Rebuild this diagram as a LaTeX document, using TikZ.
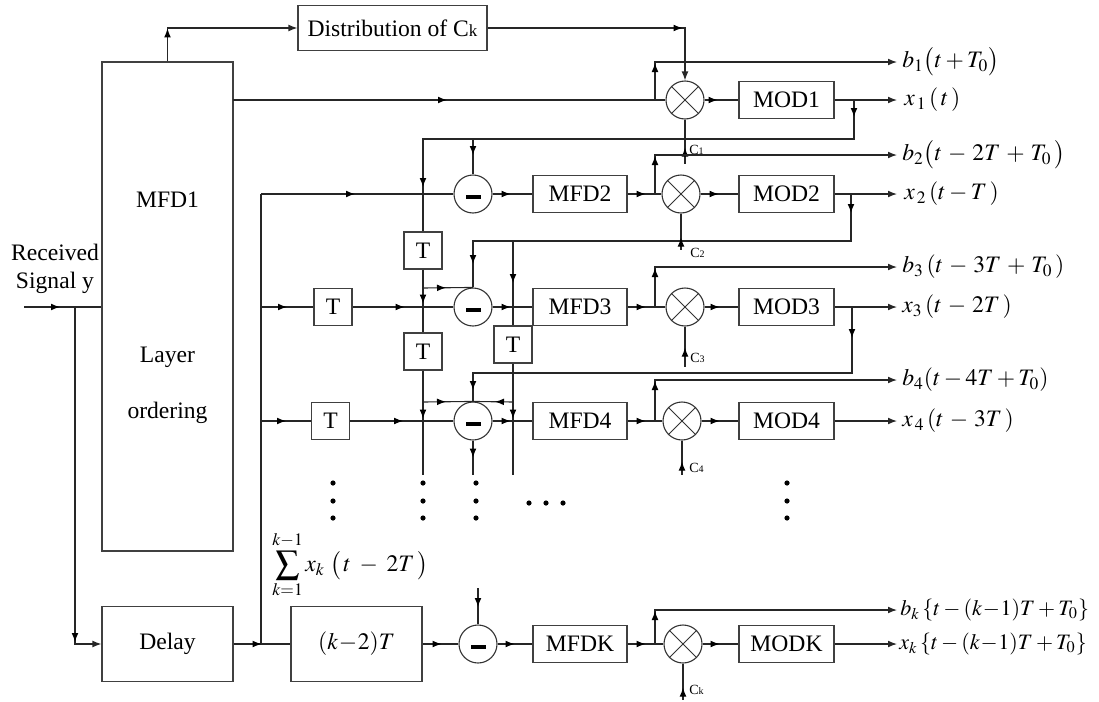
\documentclass[tikz,border=0pt]{standalone}
\usepackage{mathptmx}
\usepackage[no-math]{fontspec}
\setmainfont{Liberation Serif}
\usetikzlibrary{arrows.meta,decorations.markings}
\begin{document}
\begin{tikzpicture}[x=0.5pt,y=-0.5pt,
  >={Latex[length=4.5pt,width=3.4pt]},
  every node/.style={font=\fontsize{11.8}{14}\selectfont},
  wire/.style={draw=black!85, line width=0.55pt},
  blk/.style={draw=black!75, line width=0.55pt, rectangle, inner sep=0pt, fill=white},
  mfdbox/.style={blk, minimum width=47pt, minimum height=18.5pt},
  tbox/.style={blk, minimum width=19pt, minimum height=18.5pt},
  mulnode/.style={circle, draw=black!80, line width=0.55pt, minimum size=19pt, inner sep=0pt, fill=white,
    path picture={\draw[line width=0.5pt,black!80]
      (path picture bounding box.north west) -- (path picture bounding box.south east)
      (path picture bounding box.north east) -- (path picture bounding box.south west);}},
  subnode/.style={circle, draw=black!80, line width=0.55pt, minimum size=19pt, inner sep=0pt, fill=white,
    path picture={\fill[black] (path picture bounding box.center) ++(-3.75pt,-0.25pt) rectangle ++(7.5pt,-2pt);}},
  marr/.style={postaction={decorate,decoration={markings,mark=at position #1 with {\arrow[black]{>}}}}},
  rarr/.style={postaction={decorate,decoration={markings,mark=at position #1 with {\arrowreversed[black]{>}}}}},
  clab/.style={anchor=west, inner sep=0pt, font=\fontsize{7}{8}\selectfont},
  lab/.style={anchor=west, inner sep=0pt},
  klab/.style={anchor=west, inner sep=0pt, font=\fontsize{11}{13}\selectfont},
]
\useasboundingbox (0,0) rectangle (1099,702);

% ---------- blocks ----------
\node[blk, minimum width=94.5pt, minimum height=22.5pt] (dist) at (392.5,28) {Distribution of C{\fontsize{8.5}{9}\selectfont k}};
\node[blk, minimum width=65.5pt, minimum height=244.5pt] (mfd1) at (167.5,306.5) {};
\node (mfd1t) at (167.5,200) {MFD1};
\node (layt) at (167.5,357) {Layer};
\node (ordt) at (167.5,413) {ordering};
\node[blk, minimum width=65.5pt, minimum height=37.5pt] (delay) at (167.5,644) {Delay};
\node[blk, minimum width=65.5pt, minimum height=37.5pt] (kt) at (356.5,644) {$(k\!-\!2)T$};
\node[align=center, inner sep=0pt] (recv) at (55,269) {Received\\Signal y};

\node[mfdbox] (mfd2) at (580,194) {MFD2};
\node[mfdbox] (mfd3) at (580,307) {MFD3};
\node[mfdbox] (mfd4) at (580,421) {MFD4};
\node[mfdbox] (mfdk) at (580,644) {MFDK};

\node[mfdbox, minimum width=47.5pt] (mod1) at (786.5,100) {MOD1};
\node[mfdbox, minimum width=47.5pt] (mod2) at (786.5,194) {MOD2};
\node[mfdbox, minimum width=47.5pt] (mod3) at (786.5,307) {MOD3};
\node[mfdbox, minimum width=47.5pt] (mod4) at (786.5,421) {MOD4};
\node[mfdbox, minimum width=47.5pt] (modk) at (786.5,644) {MODK};

\node[tbox] (t1) at (423,250.5) {T};
\node[tbox] (t2) at (423,351.5) {T};
\node[tbox] (t3) at (513,344.5) {T};
\node[tbox] (tr3) at (333,307) {T};
\node[tbox] (tr4) at (330.5,421) {T};

\node[mulnode] (mul1) at (685,100) {};
\node[mulnode] (mul2) at (681,194) {};
\node[mulnode] (mul3) at (685,307) {};
\node[mulnode] (mul4) at (682,421) {};
\node[mulnode] (mulk) at (683,644) {};

\node[subnode] (sub2) at (473,194) {};
\node[subnode] (sub3) at (473,307) {};
\node[subnode] (sub4) at (473,421) {};
\node[subnode] (subk) at (478,644) {};

% ---------- coordinates ----------
\coordinate (rin) at (24,307);
\coordinate (rj) at (75,307);
\coordinate (m1o) at (233,100);
\coordinate (b1j) at (655,100);
\coordinate (b1e) at (897,62);
\coordinate (x1e) at (897,100);
\coordinate (x1j) at (854,100);
\coordinate (fb1) at (423,139);
\coordinate (fb1s) at (473,139);
\coordinate (c1e) at (685,164);
\coordinate (r2s) at (261,194);
\coordinate (kin) at (261,644);
\coordinate (b2j) at (655,194);
\coordinate (b2e) at (897,155);
\coordinate (x2e) at (897,194);
\coordinate (x2j) at (851,194);
\coordinate (fb2) at (473,241);
\coordinate (fb2b) at (513,241);
\coordinate (c2e) at (681,250);
\coordinate (t1j) at (423,288);
\coordinate (r3s) at (261,307);
\coordinate (b3j) at (655,307);
\coordinate (b3e) at (897,267);
\coordinate (x3e) at (897,307);
\coordinate (x3j) at (852,307);
\coordinate (fb3) at (473,373);
\coordinate (c3e) at (685,367);
\coordinate (t2j) at (423,402);
\coordinate (t3j) at (513,402);
\coordinate (v1e) at (423,475);
\coordinate (v2e) at (513,475);
\coordinate (s4e) at (473,475);
\coordinate (r4s) at (261,421);
\coordinate (b4j) at (655,421);
\coordinate (b4e) at (897,380);
\coordinate (x4e) at (897,421);
\coordinate (c4e) at (682,475);
\coordinate (skt) at (478,588);
\coordinate (bkj) at (655,644);
\coordinate (bke) at (897,610);
\coordinate (xke) at (897,644);
\coordinate (cke) at (683,700);

% ---------- connectors ----------
\draw[wire, marr=18pt] (rin) -- (mfd1.west |- rin);
\draw[wire, ->, marr=167.5pt] (rj) |- (delay.west);
\draw[wire, ->, marr=16.5pt] (mfd1.north) |- (dist.west);
\draw[wire, ->, marr=97.5pt] (dist.east) -| (mul1.north);
\draw[wire, marr=107pt] (m1o) -- (mul1.west);
\draw[wire, ->, marr=18.5pt] (b1j) |- (b1e);
\draw[wire, marr=6.5pt] (mul1.east) -- (mod1.west);
\draw[wire, ->] (mod1.east) -- (x1e);
\draw[wire, marr=8.5pt, marr=259pt] (x1j) |- (fb1) -- (t1.north);
\draw[wire, marr=8pt] (fb1s) -- (sub2.north);
\draw[wire, rarr=14pt] (mul1.south) -- (c1e);

\draw[wire] (r2s) -- (kin);
\draw[wire, marr=47pt] (r2s) -- (sub2.west);
\draw[wire, marr=9pt] (sub2.east) -- (mfd2.west);
\draw[wire, marr=9pt] (mfd2.east) -- (mul2.west);
\draw[wire, ->, marr=19pt] (b2j) |- (b2e);
\draw[wire, marr=9pt] (mul2.east) -- (mod2.west);
\draw[wire, ->] (mod2.east) -- (x2e);
\draw[wire, marr=9.5pt, marr=224pt] (x2j) |- (fb2) -- (sub3.north);
\draw[wire, marr=21pt] (fb2b) -- (t3.north);
\draw[wire, rarr=12pt] (mul2.south) -- (c2e);

\draw[wire, marr=17pt] (t1.south) -- (t2.north);
\draw[wire, marr=11.5pt] (t1j) -- (sub3.north);
\draw[wire, marr=24pt] (t2.south) -- (v1e);
\draw[wire, marr=11.5pt] (t2j) -- (sub4.north);
\draw[wire, marr=27.5pt] (t3.south) -- (v2e);
\draw[wire, marr=9pt] (t3j) -- (sub4.north);

\draw[wire, marr=13pt] (r3s) -- (tr3.west);
\draw[wire, marr=26pt] (tr3.east) -- (sub3.west);
\draw[wire, marr=9pt] (sub3.east) -- (mfd3.west);
\draw[wire, marr=9pt] (mfd3.east) -- (mul3.west);
\draw[wire, ->, marr=19.5pt] (b3j) |- (b3e);
\draw[wire, marr=7.5pt] (mul3.east) -- (mod3.west);
\draw[wire, ->] (mod3.east) -- (x3e);
\draw[wire, marr=15.5pt, marr=231pt] (x3j) |- (fb3) -- (sub4.north);
\draw[wire, rarr=10.5pt] (mul3.south) -- (c3e);

\draw[wire, marr=12.5pt] (r4s) -- (tr4.west);
\draw[wire, marr=26.5pt] (tr4.east) -- (sub4.west);
\draw[wire, marr=9pt] (sub4.east) -- (mfd4.west);
\draw[wire, marr=9pt] (mfd4.east) -- (mul4.west);
\draw[wire, ->, marr=20pt] (b4j) |- (b4e);
\draw[wire, marr=9pt] (mul4.east) -- (mod4.west);
\draw[wire, ->] (mod4.east) -- (x4e);
\draw[wire, marr=8.5pt] (sub4.south) -- (s4e);
\draw[wire, rarr=10.5pt] (mul4.south) -- (c4e);

\draw[wire, marr=14pt] (delay.east) -- (kt.west);
\draw[wire, marr=9.5pt] (kt.east) -- (subk.west);
\draw[wire, marr=9.5pt] (skt) -- (subk.north);
\draw[wire, marr=8.5pt] (subk.east) -- (mfdk.west);
\draw[wire, marr=9pt] (mfdk.east) -- (mulk.west);
\draw[wire, ->, marr=16.5pt] (bkj) |- (bke);
\draw[wire, marr=8.5pt] (mulk.east) -- (modk.west);
\draw[wire, ->] (modk.east) -- (xke);
\draw[wire, rarr=12pt] (mulk.south) -- (cke);

% ---------- small labels ----------
\node[clab] (c1) at (689,150) {C{\fontsize{5}{6}\selectfont 1}};
\node[clab] (c2) at (690,253) {C{\fontsize{5}{6}\selectfont 2}};
\node[clab] (c3) at (690,358) {C{\fontsize{5}{6}\selectfont 3}};
\node[clab] (c4) at (689,468) {C{\fontsize{5}{6}\selectfont 4}};
\node[clab] (ck) at (689,690) {C{\fontsize{5}{6}\selectfont k}};

% ---------- output labels ----------
\node[lab] (lb1) at (902,62) {$b_1\bigl(t+T_0\bigr)$};
\node[lab] (lx1) at (904,100) {$x_{\,1}\,(\,t\,)$};
\node[lab] (lb2) at (902,155) {$b_2\bigl(t\,-\,2T\,+\,T_0\,\bigr)$};
\node[lab] (lx2) at (904,194) {$x_{\,2}\,(t-T\,)$};
\node[lab] (lb3) at (902,267) {$b_3\,(t\,-\,3T\,+\,T_0\,)$};
\node[lab] (lx3) at (902,307) {$x_3\,(t\,-\,2T\,)$};
\node[lab] (lb4) at (902,380) {$b_4(t-4T+T_0)$};
\node[lab] (lx4) at (902,421) {$x_{\,4}\,(t\,-\,3T\,)$};
\node[klab] (lbk) at (900,610) {$b_k\,\{t-(k\!-\!1)T+T_0\}$};
\node[klab] (lxk) at (899,644) {$x_k\,\{t-(k\!-\!1)T+T_0\}$};
\node[lab] (suml) at (272,565) {$\displaystyle\sum_{k=1}^{k-1} x_k\;\bigl(\,t\;-\;2T\,\bigr)$};

% ---------- dots ----------
\foreach \xx in {333,423,476,787}
  \foreach \yy in {483,501,518}
    \fill (\xx,\yy) circle (1.3pt);
\foreach \xx in {529,546,563}
  \fill (\xx,503) circle (1.3pt);
\end{tikzpicture}
\end{document}
